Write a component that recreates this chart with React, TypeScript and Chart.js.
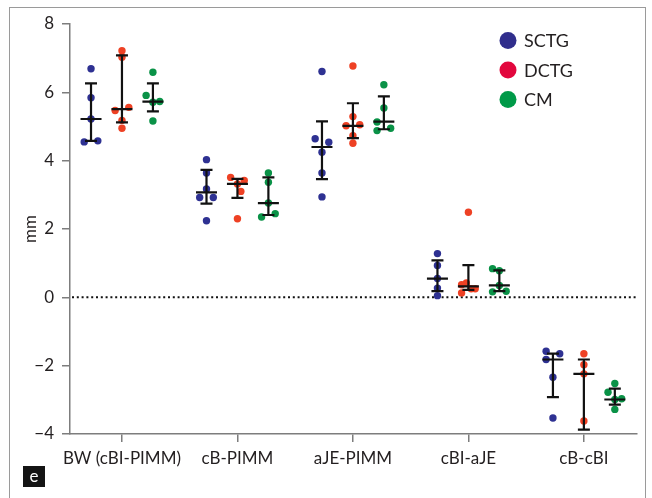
import React, { useEffect, useRef } from 'react';
import { Chart, registerables } from 'chart.js';

Chart.register(...registerables);

const FONT = 'Lato, "Open Sans", "DejaVu Sans", sans-serif';

const categories = ['BW (cBI-PIMM)', 'cB-PIMM', 'aJE-PIMM', 'cBI-aJE', 'cB-cBI'];
const seriesNames = ['SCTG', 'DCTG', 'CM'];
const yTicks = [-4, -2, 0, 2, 4, 6, 8];

// individual values per category
const sctgValues = [
  [6.69, 5.84, 5.22, 4.55, 4.58],
  [4.03, 3.64, 3.17, 2.92, 2.92, 2.24],
  [6.61, 4.64, 4.54, 4.25, 3.64, 2.94],
  [1.28, 0.93, 0.55, 0.27, 0.05],
  [-1.58, -1.65, -1.82, -2.34, -3.53],
];
const sctgJitter = [
  [0, 0, 0, -1, 1],
  [0, 0, 0, -1, 1, 0],
  [0, -1, 1, 0, 0, 0],
  [0, 0, 0, 0, 0],
  [-1, 1, -1, 0, 0],
];
const sctgMedian = [5.22, 3.07, 4.4, 0.55, -1.82];
const sctgLow = [4.58, 2.74, 3.46, 0.18, -2.92];
const sctgHigh = [6.26, 3.73, 5.15, 1.08, -1.65];

const dctgValues = [
  [7.22, 7.03, 5.47, 5.56, 5.18, 4.95],
  [3.51, 3.32, 3.42, 3.1, 2.3],
  [6.77, 5.29, 5.02, 5.05, 4.73, 4.51],
  [2.49, 0.37, 0.42, 0.25, 0.25, 0.13],
  [-1.65, -1.97, -2.24, -3.62],
];
const dctgJitter = [
  [0, 0, -1, 1, 0, 0],
  [-1, 0, 1, 0.5, 0],
  [0, 0, -1, 1, 0, 0],
  [0, -1, -0.3, 0.4, 1, -1],
  [0, 0, 0, 0],
];
const dctgMedian = [5.51, 3.32, 5.02, 0.32, -2.24];
const dctgLow = [5.12, 2.91, 4.66, 0.22, -3.87];
const dctgHigh = [7.08, 3.47, 5.68, 0.94, -1.82];

const cmValues = [
  [6.59, 5.91, 5.71, 5.73, 5.16],
  [3.64, 3.37, 2.76, 2.35, 2.45],
  [6.22, 5.54, 5.13, 4.88, 4.95],
  [0.84, 0.78, 0.35, 0.16, 0.18],
  [-2.52, -2.78, -2.99, -2.97, -3.28],
];
const cmJitter = [
  [0, -1, 0, 1, 0],
  [0, 0, 0, -1, 1],
  [0, 0, -1, -1, 1],
  [-1, 0, 0, -1, 1],
  [0, -1, 0, 1, 0],
];
const cmMedian = [5.73, 2.76, 5.14, 0.35, -2.99];
const cmLow = [5.44, 2.41, 4.92, 0.18, -3.14];
const cmHigh = [6.26, 3.51, 5.88, 0.79, -2.67];

const pointColors = ['#2e3192', '#ee4124', '#0a9247'];
const legendColors = ['#302e8c', '#e2073d', '#009a48'];

const SERIES_SHIFT = 0.268;
const JITTER_UNIT = 0.059;

const allValues = [sctgValues, dctgValues, cmValues];
const allJitter = [sctgJitter, dctgJitter, cmJitter];
const allMedian = [sctgMedian, dctgMedian, cmMedian];
const allLow = [sctgLow, dctgLow, cmLow];
const allHigh = [sctgHigh, dctgHigh, cmHigh];

const seriesOffset = (s: number) => (s - 1) * SERIES_SHIFT;

const errorBarPlugin = {
  id: 'errorBars',
  afterDatasetsDraw(chart: any) {
    const { ctx, scales } = chart;
    const xs = scales.x;
    const ys = scales.y;
    ctx.save();
    ctx.strokeStyle = '#111';
    ctx.lineWidth = 2.2;
    ctx.lineCap = 'butt';
    for (let s = 0; s < 3; s++) {
      for (let g = 0; g < categories.length; g++) {
        const x = xs.getPixelForValue(g + seriesOffset(s));
        const yl = ys.getPixelForValue(allLow[s][g]);
        const yh = ys.getPixelForValue(allHigh[s][g]);
        const ym = ys.getPixelForValue(allMedian[s][g]);
        ctx.beginPath();
        ctx.moveTo(x, yl);
        ctx.lineTo(x, yh);
        ctx.moveTo(x - 6, yl);
        ctx.lineTo(x + 6, yl);
        ctx.moveTo(x - 6, yh);
        ctx.lineTo(x + 6, yh);
        ctx.moveTo(x - 10.5, ym);
        ctx.lineTo(x + 10.5, ym);
        ctx.stroke();
      }
    }
    ctx.restore();
  },
};

const zeroLinePlugin = {
  id: 'zeroLine',
  beforeDatasetsDraw(chart: any) {
    const { ctx, chartArea, scales } = chart;
    const y = scales.y.getPixelForValue(0);
    ctx.save();
    ctx.strokeStyle = '#111';
    ctx.lineWidth = 2;
    ctx.setLineDash([2, 2.8]);
    ctx.beginPath();
    ctx.moveTo(chartArea.left + 2, y);
    ctx.lineTo(chartArea.right, y);
    ctx.stroke();
    ctx.restore();
  },
};

const legendPlugin = {
  id: 'customLegend',
  afterDraw(chart: any) {
    const { ctx } = chart;
    ctx.save();
    ctx.font = `18px ${FONT}`;
    ctx.textBaseline = 'middle';
    ctx.textAlign = 'left';
    seriesNames.forEach((name, i) => {
      const cy = 40.5 + i * 29.5;
      ctx.fillStyle = legendColors[i];
      ctx.beginPath();
      ctx.arc(508, cy, 8.5, 0, Math.PI * 2);
      ctx.fill();
      ctx.fillStyle = '#231f20';
      ctx.fillText(name, 524, cy + 1);
    });
    ctx.restore();
  },
};

export default function App() {
  const ref = useRef<HTMLCanvasElement>(null);

  useEffect(() => {
    const datasets = seriesNames.map((name, s) => ({
      label: name,
      data: allValues[s].flatMap((vals, g) =>
        vals.map((v, k) => ({
          x: g + seriesOffset(s) + allJitter[s][g][k] * JITTER_UNIT,
          y: v,
        }))
      ),
      backgroundColor: pointColors[s],
      borderWidth: 0,
      pointRadius: 3.7,
      pointHoverRadius: 3.7,
    }));

    const chart = new Chart(ref.current!, {
      type: 'scatter',
      data: { datasets },
      options: {
        animation: false,
        responsive: false,
        maintainAspectRatio: false,
        events: [],
        layout: { padding: { left: 0, top: 24, right: 15, bottom: 0 } },
        plugins: {
          legend: { display: false },
          tooltip: { enabled: false },
        },
        scales: {
          x: {
            type: 'linear',
            min: -0.45,
            max: 4.46,
            afterBuildTicks: (scale: any) => {
              scale.ticks = categories.map((_, i) => ({ value: i }));
            },
            afterFit: (scale: any) => {
              scale.height = 64;
            },
            ticks: {
              callback: (v: any) => categories[Math.round(Number(v))] ?? '',
              color: '#231f20',
              font: { family: FONT, size: 17 },
              padding: 6,
              maxRotation: 0,
              autoSkip: false,
            },
            grid: {
              drawOnChartArea: false,
              drawTicks: true,
              tickLength: 8,
              color: '#7d7d7d',
              lineWidth: 1.5,
            },
            border: { display: true, color: '#7d7d7d', width: 1.5 },
          },
          y: {
            type: 'linear',
            min: -4,
            max: 8,
            afterBuildTicks: (scale: any) => {
              scale.ticks = yTicks.map((v) => ({ value: v }));
            },
            afterFit: (scale: any) => {
              scale.width = 70;
            },
            ticks: {
              callback: (v: any) => (Number(v) < 0 ? '\u2212' + Math.abs(Number(v)) : String(v)),
              color: '#231f20',
              font: { family: FONT, size: 17 },
              padding: 8,
            },
            grid: {
              drawOnChartArea: false,
              drawTicks: true,
              tickLength: 8,
              color: '#7d7d7d',
              lineWidth: 1.5,
            },
            border: { display: true, color: '#7d7d7d', width: 1.5 },
            title: {
              display: true,
              text: 'mm',
              color: '#231f20',
              font: { family: FONT, size: 17 },
              padding: { top: 20, bottom: 0 },
            },
          },
        },
      },
      plugins: [zeroLinePlugin, errorBarPlugin, legendPlugin],
    });
    return () => chart.destroy();
  }, []);

  return (
    <div
      style={{
        position: 'absolute',
        left: 0,
        top: 0,
        width: 652,
        height: 498,
        overflow: 'hidden',
        background: '#fff',
      }}
    >
      <canvas
        ref={ref}
        width={652}
        height={498}
        style={{ position: 'absolute', left: 0, top: 0, width: 652, height: 498 }}
      />
      <div
        style={{
          position: 'absolute',
          left: 9,
          top: 7,
          width: 637,
          height: 520,
          border: '1px solid #9a9a9a',
          boxSizing: 'border-box',
          pointerEvents: 'none',
        }}
      />
      <div
        style={{
          position: 'absolute',
          left: 23,
          top: 466,
          width: 22,
          height: 21,
          background: '#141414',
          color: '#fff',
          fontFamily: FONT,
          fontSize: 17,
          fontWeight: 400,
          lineHeight: '19px',
          textAlign: 'center',
        }}
      >
        e
      </div>
    </div>
  );
}
